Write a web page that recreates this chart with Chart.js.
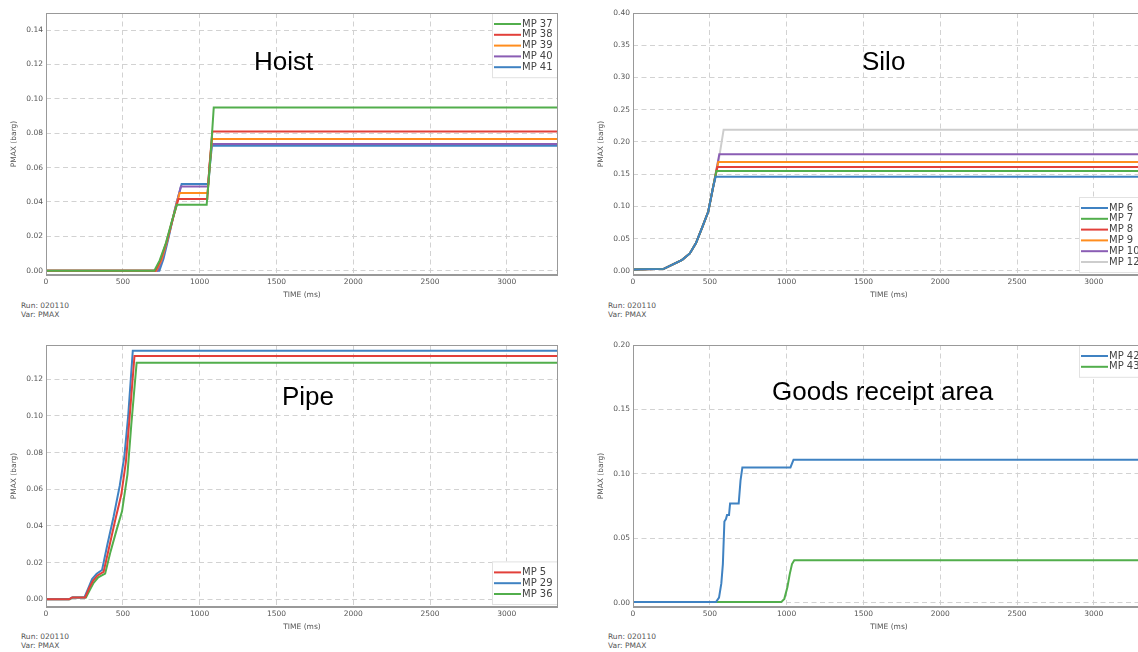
<!DOCTYPE html>
<html><head><meta charset="utf-8">
<script src="https://cdn.jsdelivr.net/npm/chart.js@4.4.1/dist/chart.umd.min.js"></script>
<style>
html,body{margin:0;padding:0;background:#fff;overflow:hidden;width:1138px;height:652px;position:relative;}
.panel{position:absolute;width:575px;height:300px;}
.note{position:absolute;font:7.5px "DejaVu Sans",sans-serif;color:#555;line-height:9px;white-space:pre;}
.big{position:absolute;font:26px "Liberation Sans",Arial,sans-serif;line-height:26px;color:#000;white-space:nowrap;}
</style></head><body>
<div class="panel" style="left:0;top:0"><canvas id="c1" width="575" height="300"></canvas></div>
<div class="panel" style="left:587px;top:0"><canvas id="c2" width="575" height="300"></canvas></div>
<div class="panel" style="left:0;top:332px"><canvas id="c3" width="575" height="300"></canvas></div>
<div class="panel" style="left:587px;top:332px"><canvas id="c4" width="575" height="300"></canvas></div>

<div class="big" style="left:254px;top:48px">Hoist</div>
<div class="big" style="left:862px;top:48px">Silo</div>
<div class="big" style="left:282px;top:383px">Pipe</div>
<div class="big" style="left:772px;top:378px">Goods receipt area</div>

<div class="note" style="left:21px;top:301px">Run: 020110
Var: PMAX</div>
<div class="note" style="left:608px;top:301px">Run: 020110
Var: PMAX</div>
<div class="note" style="left:21px;top:632px">Run: 020110
Var: PMAX</div>
<div class="note" style="left:608px;top:632px">Run: 020110
Var: PMAX</div>

<script>
// ---------- shared axis ----------
const X_TICKS = [0, 500, 1000, 1500, 2000, 2500, 3000];
const X_MAX = 3333;
const X_TITLE = 'TIME (ms)';
const Y_TITLE = 'PMAX (barg)';

// ---------- Hoist ----------
const HOIST_Y_TICKS = [0, 0.02, 0.04, 0.06, 0.08, 0.10, 0.12, 0.14];
const HOIST_LABELS = ['MP 37', 'MP 38', 'MP 39', 'MP 40', 'MP 41'];
const MP37 = [[0,0],[705,0],[740,0.006],[780,0.016],[820,0.029],[852,0.0384],[1046,0.0384],[1070,0.065],[1092,0.095],[3333,0.095]];
const MP38 = [[0,0],[712,0],[745,0.006],[785,0.017],[825,0.030],[862,0.0417],[1050,0.0417],[1065,0.062],[1083,0.081],[3333,0.081]];
const MP39 = [[0,0],[716,0],[750,0.006],[790,0.018],[830,0.032],[870,0.0452],[1052,0.0452],[1066,0.062],[1080,0.0767],[3333,0.0767]];
const MP40 = [[0,0],[726,0],[758,0.007],[795,0.019],[835,0.034],[878,0.049],[1054,0.049],[1066,0.062],[1079,0.0738],[3333,0.0738]];
const MP41 = [[0,0],[738,0],[765,0.007],[800,0.020],[840,0.036],[883,0.0504],[1057,0.0504],[1068,0.062],[1080,0.0727],[3333,0.0727]];

// ---------- Silo ----------
const SILO_Y_TICKS = [0, 0.05, 0.10, 0.15, 0.20, 0.25, 0.30, 0.35, 0.40];
const SILO_LABELS = ['MP 6', 'MP 7', 'MP 8', 'MP 9', 'MP 10', 'MP 12'];
const MP6  = [[0,0.002],[200,0.003],[260,0.010],[320,0.017],[370,0.027],[410,0.043],[455,0.070],[490,0.092],[520,0.128],[538,0.146],[3333,0.146]];
const MP7  = [[0,0.002],[200,0.003],[260,0.010],[320,0.017],[370,0.027],[410,0.043],[455,0.070],[490,0.092],[520,0.128],[543,0.155],[3333,0.155]];
const MP8  = [[0,0.002],[200,0.003],[260,0.010],[320,0.017],[370,0.027],[410,0.043],[455,0.070],[490,0.092],[520,0.128],[549,0.161],[3333,0.161]];
const MP9  = [[0,0.002],[200,0.003],[260,0.010],[320,0.017],[370,0.027],[410,0.043],[455,0.070],[490,0.092],[520,0.128],[555,0.169],[3333,0.169]];
const MP10 = [[0,0.002],[200,0.003],[260,0.010],[320,0.017],[370,0.027],[410,0.043],[455,0.070],[490,0.092],[520,0.128],[562,0.181],[3333,0.181]];
const MP12 = [[0,0.002],[200,0.003],[260,0.010],[320,0.017],[370,0.027],[410,0.043],[455,0.070],[490,0.092],[520,0.128],[550,0.160],[590,0.219],[3333,0.219]];

// ---------- Pipe ----------
const PIPE_Y_TICKS = [0, 0.02, 0.04, 0.06, 0.08, 0.10, 0.12];
const PIPE_LABELS = ['MP 5', 'MP 29', 'MP 36'];
const MP5  = [[0,0],[150,0],[170,0.001],[255,0.001],[280,0.006],[305,0.010],[335,0.013],[375,0.015],[410,0.028],[450,0.043],[490,0.057],[520,0.075],[545,0.100],[576,0.1327],[3333,0.1327]];
const MP29 = [[0,0],[150,0],[170,0.001],[250,0.001],[275,0.006],[300,0.011],[330,0.014],[365,0.016],[400,0.030],[440,0.045],[480,0.062],[510,0.078],[535,0.100],[565,0.1356],[3333,0.1356]];
const MP36 = [[0,0],[155,0],[175,0.001],[260,0.001],[285,0.005],[310,0.009],[340,0.012],[385,0.014],[420,0.026],[460,0.038],[495,0.048],[530,0.068],[555,0.095],[590,0.129],[3333,0.129]];

// ---------- Goods receipt area ----------
const GOODS_Y_TICKS = [0, 0.05, 0.10, 0.15, 0.20];
const GOODS_LABELS = ['MP 42', 'MP 43'];
const MP42 = [[0,0.0005],[540,0.0005],[560,0.004],[575,0.015],[585,0.030],[595,0.063],[605,0.065],[612,0.068],[625,0.068],[632,0.077],[688,0.077],[700,0.095],[712,0.105],[1025,0.105],[1045,0.111],[3333,0.111]];
const MP43 = [[0,0.0005],[965,0.0005],[985,0.003],[1005,0.012],[1020,0.022],[1035,0.030],[1050,0.033],[3333,0.033]];

// ---------- colours ----------
const BLUE = '#3f82c2', GREEN = '#52ae4c', RED = '#e2403a', ORANGE = '#ff8d1e', PURPLE = '#8a5db4', GREY = '#cdcdcd';

const TICK_FONT = {family: '"DejaVu Sans", sans-serif', size: 7.5};

const framePlugin = {
  id: 'frameLegend',
  afterDatasetsDraw(chart, args, opts) {
    const {ctx, chartArea: a} = chart;
    const ds = chart.data.datasets;
    const n = ds.length, rowH = 10.8, w = 66;
    const h = (n - 1) * rowH + 22;
    const left = a.right - w;
    const top = opts.pos === 'top' ? a.top : a.bottom - 2 - h;
    ctx.save();
    ctx.fillStyle = '#fff';
    ctx.fillRect(left, top, w, h);
    ctx.strokeStyle = '#e2e2e2';
    ctx.lineWidth = 1;
    ctx.strokeRect(left + 0.5, top + 0.5, w - 1, h - 1);
    ctx.font = '10px "DejaVu Sans", sans-serif';
    ctx.textBaseline = 'middle';
    ds.forEach((d, i) => {
      const y = top + 11 + i * rowH;
      ctx.strokeStyle = d.borderColor;
      ctx.lineWidth = 2;
      ctx.beginPath(); ctx.moveTo(left + 2, y); ctx.lineTo(left + 29, y); ctx.stroke();
      ctx.fillStyle = '#444';
      ctx.fillText(d.label, left + 30, y);
    });
    // frame
    ctx.strokeStyle = '#999';
    ctx.lineWidth = 1;
    ctx.strokeRect(a.left + 0.5, a.top + 0.5, a.right - a.left - 1, a.bottom - a.top - 1);
    ctx.lineWidth = 2;
    ctx.beginPath(); ctx.moveTo(a.left, a.bottom); ctx.lineTo(a.right, a.bottom); ctx.stroke();
    ctx.restore();
  }
};

function makeChart(id, labels, seriesList, colors, yMin, yMax, yTicks, legendPos) {
  const datasets = seriesList.map((s, i) => ({
    label: labels[i],
    data: s.map(p => ({x: p[0], y: p[1]})),
    borderColor: colors[i],
    backgroundColor: colors[i],
    borderWidth: 2,
    pointRadius: 0,
    tension: 0,
    fill: false
  }));
  return new Chart(document.getElementById(id), {
    type: 'line',
    data: {datasets},
    plugins: [framePlugin],
    options: {
      responsive: false,
      animation: false,
      events: [],
      layout: {padding: {top: 13, right: 17, left: 0, bottom: 0}},
      plugins: {legend: {display: false}, tooltip: {enabled: false}, frameLegend: {pos: legendPos}},
      scales: {
        x: {
          type: 'linear', min: 0, max: X_MAX,
          afterBuildTicks: s => { s.ticks = X_TICKS.map(v => ({value: v})); },
          afterFit: s => { s.height = 25; },
          grid: {color: '#d2d2d2', lineWidth: 1, drawTicks: false},
          border: {display: false, dash: [5, 3.5]},
          ticks: {font: TICK_FONT, color: '#555', padding: 3, maxRotation: 0, autoSkip: false, callback: v => String(v)},
          title: {display: true, text: X_TITLE, font: TICK_FONT, color: '#555', padding: {top: 0, bottom: 0.5}}
        },
        y: {
          type: 'linear', min: yMin, max: yMax,
          afterBuildTicks: s => { s.ticks = yTicks.map(v => ({value: v})); },
          afterFit: s => { s.width = 46; },
          grid: {color: '#d2d2d2', lineWidth: 1, drawTicks: false},
          border: {display: false, dash: [5, 3.5]},
          ticks: {font: TICK_FONT, color: '#555', padding: 3, autoSkip: false, callback: v => Number(v).toFixed(2)},
          title: {display: true, text: Y_TITLE, font: TICK_FONT, color: '#555', padding: {top: 10, bottom: 0}}
        }
      }
    }
  });
}

makeChart('c1', HOIST_LABELS, [MP37, MP38, MP39, MP40, MP41], [GREEN, RED, ORANGE, PURPLE, BLUE], -0.0025, 0.15, HOIST_Y_TICKS, 'top');
makeChart('c2', SILO_LABELS, [MP6, MP7, MP8, MP9, MP10, MP12], [BLUE, GREEN, RED, ORANGE, PURPLE, GREY], -0.0065, 0.40, SILO_Y_TICKS, 'bottom');
makeChart('c3', PIPE_LABELS, [MP5, MP29, MP36], [RED, BLUE, GREEN], -0.0042, 0.1387, PIPE_Y_TICKS, 'bottom');
makeChart('c4', GOODS_LABELS, [MP42, MP43], [BLUE, GREEN], -0.0033, 0.20, GOODS_Y_TICKS, 'top');
</script>
</body></html>
